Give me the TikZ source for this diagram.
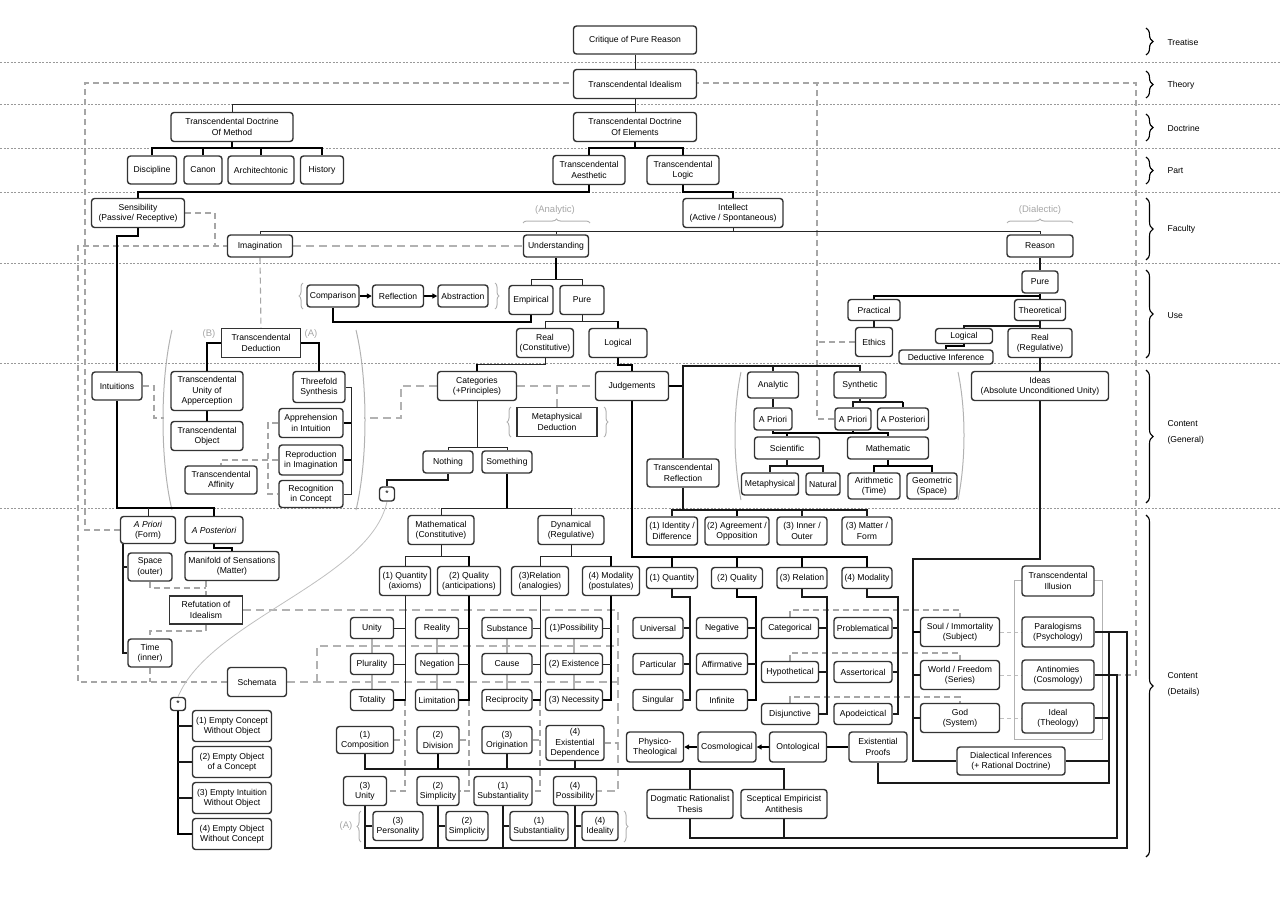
\documentclass[tikz,border=0pt]{standalone}
\usepackage{fontspec}
\setmainfont{Liberation Sans}
\usetikzlibrary{decorations.pathreplacing,arrows.meta,calc}
\pgfdeclarelayer{bg}
\pgfsetlayers{bg,main}
\newcommand\dfont{\fontsize{8.6}{10.3}\selectfont}
\begin{document}
\begin{tikzpicture}[x=1pt,y=-1pt,
 box/.style={draw=black!80, line width=1.4pt, rounded corners=3pt, fill=white, align=center, inner sep=0.5pt, font=\dfont, text=black},
 sbox/.style={box, rounded corners=0pt},
 wh/.style 2 args={minimum width=#1pt, minimum height=#2pt},
 thn/.style={draw=black!85, line width=1pt},
 med/.style={draw=black!90, line width=1.4pt},
 thk/.style={draw=black, line width=2.4pt},
 gd/.style={draw=black!35, line width=1.1pt, dash pattern=on 6pt off 4pt},
 gdb/.style={draw=black!30, line width=1.6pt, dash pattern=on 8pt off 5pt},
 gdl/.style={draw=black!25, line width=0.9pt, dash pattern=on 4pt off 3pt},
 gcn/.style={draw=black!30, line width=1.3pt},
 sepl/.style={draw=black!40, line width=0.8pt, dash pattern=on 2pt off 1.5pt},
 gl/.style={text=black!35, font=\fontsize{9.5}{10}\selectfont},
 gbr/.style={draw=black!30, line width=1pt, decorate, decoration={brace, amplitude=4pt}},
 gpar/.style={draw=black!30, line width=1pt},
 rbr/.style={draw=black, line width=1.1pt, decorate, decoration={brace, amplitude=7pt}},
 lab/.style={font=\dfont, anchor=west, align=left},
 arr/.style={draw=black, line width=1.5pt, -{Triangle[length=5pt,width=5pt]}},
]
\useasboundingbox (0,0) rectangle (1280,916);

% ---------- nodes ----------
\node[box,wh={123}{28}] (cpr) at (635,40) {Critique of Pure Reason};
\node[box,wh={123}{29}] (ti) at (635,84) {Transcendental Idealism};
\node[box,wh={122}{29}] (tdm) at (232,127) {Transcendental Doctrine\\Of Method};
\node[box,wh={123}{29}] (tde) at (635,127) {Transcendental Doctrine\\Of Elements};
\node[box,wh={49}{28}] (disc) at (152,170) {Discipline};
\node[box,wh={38}{28}] (canon) at (203,170) {Canon};
\node[box,wh={66}{28}] (arch) at (261,170) {Architechtonic};
\node[box,wh={43}{28}] (hist) at (322,170) {History};
\node[box,wh={72}{29}] (taes) at (589,170) {Transcendental\\Aesthetic};
\node[box,wh={72}{29}] (tlog) at (683,170) {Transcendental\\Logic};
\node[box,wh={93}{29}] (sens) at (138,213) {Sensibility\\(Passive/ Receptive)};
\node[box,wh={100}{29}] (intel) at (733,213) {Intellect\\(Active / Spontaneous)};
\node[box,wh={65}{22}] (imag) at (260,246) {Imagination};
\node[box,wh={65}{22}] (und) at (556,246) {Understanding};
\node[box,wh={66}{22}] (reas) at (1040,246) {Reason};
\node[box,wh={52}{22}] (comp) at (333,296) {Comparison};
\node[box,wh={51}{22}] (refl) at (398,296) {Reflection};
\node[box,wh={50}{22}] (abst) at (463,296) {Abstraction};
\node[box,wh={44}{29}] (emp) at (531,300) {Empirical};
\node[box,wh={44}{29}] (pureu) at (582,300) {Pure};
\node[box,wh={57}{29}] (realc) at (545,343) {Real\\(Constitutive)};
\node[box,wh={58}{29}] (logu) at (618,343) {Logical};
\node[box,wh={36}{22}] (purer) at (1040,282) {Pure};
\node[box,wh={52}{21}] (prac) at (874,310) {Practical};
\node[box,wh={51}{21}] (theo) at (1040,310) {Theoretical};
\node[box,wh={37}{29}] (ethics) at (874,342) {Ethics};
\node[box,wh={57}{15}] (logr) at (964,336) {Logical};
\node[box,wh={94}{14}] (dedi) at (946,357) {Deductive Inference};
\node[box,wh={64}{29}] (realr) at (1040,343) {Real\\(Regulative)};
\node[sbox,wh={79}{29}] (td) at (261,343) {Transcendental\\Deduction};
\node[box,wh={50}{28}] (intu) at (117,386) {Intuitions};
\node[box,wh={72}{39}] (tua) at (207,391) {Transcendental\\Unity of\\Apperception};
\node[box,wh={72}{29}] (tobj) at (207,436) {Transcendental\\Object};
\node[box,wh={72}{28}] (taff) at (221,480) {Transcendental\\Affinity};
\node[box,wh={52}{31}] (three) at (319,387) {Threefold\\Synthesis};
\node[box,wh={64}{29}] (appr) at (311,423) {Apprehension\\in Intuition};
\node[box,wh={64}{30}] (repr) at (311,460) {Reproduction\\in Imagination};
\node[box,wh={64}{27}] (reco) at (311,494) {Recognition\\in Concept};
\node[box,wh={79}{29}] (cat) at (477,386) {Categories\\(+Principles)};
\node[box,wh={73}{29}] (judg) at (632,386) {Judgements};
\node[sbox,wh={80}{29}] (metad) at (557,422) {Metaphysical\\Deduction};
\node[box,wh={50}{22}] (noth) at (448,462) {Nothing};
\node[box,wh={50}{22}] (some) at (507,462) {Something};
\node[box,wh={15}{14}] (star1) at (387,494) {*};
\node[box,wh={51}{26}] (anal) at (773,385) {Analytic};
\node[box,wh={52}{26}] (synth) at (860,385) {Synthetic};
\node[box,wh={38}{22}] (apa) at (773,419) {A Priori};
\node[box,wh={36}{22}] (aps) at (853,419) {A Priori};
\node[box,wh={51}{22}] (apost) at (903,419) {A Posteriori};
\node[box,wh={65}{22}] (sci) at (787,448) {Scientific};
\node[box,wh={81}{22}] (math) at (888,448) {Mathematic};
\node[box,wh={57}{22}] (metap) at (770,484) {Metaphysical};
\node[box,wh={34}{22}] (nat) at (823,484) {Natural};
\node[box,wh={52}{26}] (arith) at (874,486) {Arithmetic\\(Time)};
\node[box,wh={50}{26}] (geom) at (932,486) {Geometric\\(Space)};
\node[box,wh={72}{28}] (trefl) at (683,473) {Transcendental\\Reflection};
\node[box,wh={137}{29}] (ideas) at (1040,386) {Ideas\\(Absolute Unconditioned Unity)};
\node[box,wh={55}{27}] (apf) at (148,530) {\itshape A Priori\\(Form)};
\node[box,wh={58}{27}] (apm) at (214,530) {\itshape A Posteriori};
\node[box,wh={44}{28}] (space) at (150,567) {Space\\(outer)};
\node[box,wh={94}{29}] (manif) at (232,566) {Manifold of Sensations\\(Matter)};
\node[sbox,wh={73}{28}] (refut) at (206,610) {Refutation of\\Idealism};
\node[box,wh={44}{28}] (time) at (150,653) {Time\\(inner)};
\node[box,wh={59}{29}] (schem) at (257,682) {Schemata};
\node[box,wh={15}{13}] (star2) at (178,704) {*};
\node[box,wh={79}{31}] (ec1) at (232,726) {(1) Empty Concept\\Without Object};
\node[box,wh={79}{31}] (ec2) at (232,762) {(2) Empty Object\\of a Concept};
\node[box,wh={79}{31}] (ec3) at (232,798) {(3) Empty Intuition\\Without Object};
\node[box,wh={79}{31}] (ec4) at (232,834) {(4) Empty Object\\Without Concept};
\node[box,wh={66}{29}] (mathc) at (441,530) {Mathematical\\(Constitutive)};
\node[box,wh={66}{29}] (dyn) at (571,530) {Dynamical\\(Regulative)};
\node[box,wh={51}{29}] (q1) at (405,581) {(1) Quantity\\(axioms)};
\node[box,wh={63}{29}] (q2) at (469,581) {(2) Quality\\(anticipations)};
\node[box,wh={57}{29}] (q3) at (540,581) {(3)Relation\\(analogies)};
\node[box,wh={57}{29}] (q4) at (611,581) {(4) Modality\\(postulates)};
\node[box,wh={43}{21}] (c11) at (372,628) {Unity};
\node[box,wh={43}{21}] (c12) at (372,664) {Plurality};
\node[box,wh={43}{21}] (c13) at (372,700) {Totality};
\node[box,wh={43}{21}] (c21) at (437,628) {Reality};
\node[box,wh={43}{21}] (c22) at (437,664) {Negation};
\node[box,wh={43}{21}] (c23) at (437,700) {Limitation};
\node[box,wh={50}{21}] (c31) at (507,628) {Substance};
\node[box,wh={50}{21}] (c32) at (507,664) {Cause};
\node[box,wh={50}{21}] (c33) at (507,700) {Reciprocity};
\node[box,wh={57}{21}] (c41) at (574,628) {(1)Possibility};
\node[box,wh={57}{21}] (c42) at (574,664) {(2) Existence};
\node[box,wh={57}{21}] (c43) at (574,700) {(3) Necessity};
\node[box,wh={57}{27}] (comp1) at (365,740) {(1)\\Composition};
\node[box,wh={42}{27}] (div2) at (438,740) {(2)\\Division};
\node[box,wh={50}{27}] (orig3) at (507,740) {(3)\\Origination};
\node[box,wh={58}{35}] (exd4) at (575,743) {(4)\\Existential\\Dependence};
\node[box,wh={43}{29}] (un3) at (365,791) {(3)\\Unity};
\node[box,wh={42}{29}] (sim2) at (438,791) {(2)\\Simplicity};
\node[box,wh={58}{29}] (sub1) at (503,791) {(1)\\Substantiality};
\node[box,wh={43}{29}] (pos4) at (575,791) {(4)\\Possibility};
\node[box,wh={50}{29}] (pers) at (398,826) {(3)\\Personality};
\node[box,wh={42}{29}] (simb) at (467,826) {(2)\\Simplicity};
\node[box,wh={58}{29}] (subb) at (539,826) {(1)\\Substantiality};
\node[box,wh={36}{29}] (ideal4) at (600,826) {(4)\\Ideality};
\node[box,wh={51}{28}] (r1) at (672,531) {(1) Identity /\\Difference};
\node[box,wh={64}{28}] (r2) at (737,531) {(2) Agreement /\\Opposition};
\node[box,wh={50}{28}] (r3) at (802,531) {(3) Inner /\\Outer};
\node[box,wh={50}{28}] (r4) at (867,531) {(3) Matter /\\Form};
\node[box,wh={51}{21}] (j1) at (672,578) {(1) Quantity};
\node[box,wh={51}{21}] (j2) at (737,578) {(2) Quality};
\node[box,wh={50}{21}] (j3) at (802,578) {(3) Relation};
\node[box,wh={50}{21}] (j4) at (867,578) {(4) Modality};
\node[box,wh={50}{21}] (univ) at (658,628) {Universal};
\node[box,wh={50}{21}] (part) at (658,664) {Particular};
\node[box,wh={50}{21}] (sing) at (658,700) {Singular};
\node[box,wh={51}{21}] (neg) at (722,628) {Negative};
\node[box,wh={51}{21}] (aff) at (722,664) {Affirmative};
\node[box,wh={51}{21}] (inf) at (722,700) {Infinite};
\node[box,wh={57}{21}] (categ) at (790,628) {Categorical};
\node[box,wh={57}{21}] (hyp) at (790,672) {Hypothetical};
\node[box,wh={57}{21}] (disj) at (790,714) {Disjunctive};
\node[box,wh={58}{21}] (prob) at (863,628) {Problematical};
\node[box,wh={58}{21}] (asser) at (863,672) {Assertorical};
\node[box,wh={58}{21}] (apod) at (863,714) {Apodeictical};
\node[box,wh={57}{30}] (phys) at (655,747) {Physico-\\Theological};
\node[box,wh={58}{30}] (cosm) at (727,747) {Cosmological};
\node[box,wh={57}{30}] (onto) at (798,747) {Ontological};
\node[box,wh={58}{30}] (exis) at (878,747) {Existential\\Proofs};
\node[box,wh={86}{29}] (dogm) at (690,804) {Dogmatic Rationalist\\Thesis};
\node[box,wh={86}{29}] (scep) at (784,804) {Sceptical Empiricist\\Antithesis};
\node[box,wh={79}{29}] (soul) at (960,632) {Soul / Immortality\\(Subject)};
\node[box,wh={79}{29}] (world) at (960,675) {World / Freedom\\(Series)};
\node[box,wh={79}{29}] (god) at (960,718) {God\\(System)};
\node[box,wh={72}{30}] (till) at (1058,581) {Transcendental\\Illusion};
\node[box,wh={72}{30}] (para) at (1058,632) {Paralogisms\\(Psychology)};
\node[box,wh={72}{30}] (anti) at (1058,675) {Antinomies\\(Cosmology)};
\node[box,wh={72}{30}] (idealt) at (1058,718) {Ideal\\(Theology)};
\node[box,wh={108}{28}] (dinf) at (1011,761) {Dialectical Inferences\\(+ Rational Doctrine)};

% gray labels
\node[gl] (lanal) at (555,210) {(Analytic)};
\node[gl] (ldial) at (1040,210) {(Dialectic)};
\node[gl] (lb) at (209,334) {(B)};
\node[gl] (la) at (311,334) {(A)};
\node[gl] (la2) at (346,826) {(A)};

% right labels
\node[lab] (l1) at (1164,42) {Treatise};
\node[lab] (l2) at (1164,85) {Theory};
\node[lab] (l3) at (1164,128) {Doctrine};
\node[lab] (l4) at (1164,171) {Part};
\node[lab] (l5) at (1164,229) {Faculty};
\node[lab] (l6) at (1164,316) {Use};
\node[lab] (l7) at (1164,424) {Content};
\node[lab] (l7b) at (1164,440) {(General)};
\node[lab] (l8) at (1164,676) {Content};
\node[lab] (l8b) at (1164,692) {(Details)};
\draw[rbr] (1146,28) -- (1146,55);
\draw[rbr] (1146,71) -- (1146,98);
\draw[rbr] (1146,114) -- (1146,141);
\draw[rbr] (1146,157) -- (1146,184);
\draw[rbr] (1146,198) -- (1146,260);
\draw[rbr] (1146,270) -- (1146,358);
\draw[rbr] (1146,370) -- (1146,503);
\draw[rbr] (1146,515) -- (1146,857);

\begin{pgfonlayer}{bg}
% band separators
\foreach \yy in {62,104,148,192,263,363,508} \draw[sepl] (0,\yy) -- (1280,\yy);

% gray dashed relations
\draw[gd] (apf.west) -- (apf.west -| 85,0) -- (85,83) -- (1136,83) -- (1136,675) -- (anti.east);
\draw[gd] (aps.west) -- (aps.west -| 817,0) -- (817,83);
\draw[gd] (ethics.west) -- (ethics.west -| 817,0);
\draw[gd] (sens.east) -- (sens.east -| 215,0) -- (215,246);
\draw[gd] (schem.west) -- (schem.west -| 78,0) -- (78,246) -- (imag.west);
\draw[gdb] (imag.east) -- (und.west);
\draw[gd] (imag.south) -- (td.north);
\draw[gd] (intu.east) -- (intu.east -| 154,0) -- (154,418) -- (164,418);
\draw[gdb] (cat.west) -- (cat.west -| 401,0) -- (401,418) -- (364,418);
\draw[gdb] (cat.east) -- (judg.west);
\draw[gdb] (metad.north |- cat.east) -- (metad.north);
\draw[gd] (appr.west) -- (appr.west -| 268,0) -- (reco.west -| 268,0) -- (reco.west);
\draw[gd] (repr.west) -- (repr.west -| taff.north) -- (taff.north);
\draw[gd] (space.south) -- (space.south |- 0,588) -- (refut.north |- 0,588);
\draw[gd] (refut.north |- manif.south) -- (refut.north);
\draw[gd] (refut.south) -- (refut.south |- 0,631) -- (time.north |- 0,631) -- (time.north);
\draw[gd] (time.south) -- (time.south |- 0,682);
\draw[gdb] (refut.east) -- (refut.east -| 618,0) -- (618,791) -- (pos4.east);
\draw[gdb] (schem.east) -- (618,682);
\draw[gdb] (317,682) -- (317,646) -- (618,646);
\draw[gd] (exd4.east) -- (exd4.east -| 618,0);
\draw[gd] (q1.south |- c13.east) -- (q1.south |- un3.east) -- (un3.east);
\draw[gd] (comp1.east) -- (comp1.east -| q1.south);
\draw[gd] (q2.south |- c23.east) -- (q2.south |- sim2.east) -- (sim2.east);
\draw[gd] (div2.east) -- (div2.east -| q2.south);
\draw[gd] (q3.south |- c33.east) -- (q3.south |- sub1.east) -- (sub1.east);
\draw[gd] (orig3.east) -- (orig3.east -| q3.south);
\foreach \a/\b in {c11/c12,c12/c13,c21/c22,c22/c23,c31/c32,c32/c33,c41/c42,c42/c43}
  \draw[gcn] (\a.south) -- (\b.north);
\draw[gd] (categ.north) -- (categ.north |- 0,610) -- (soul.north |- 0,610) -- (soul.north);
\draw[gd] (hyp.north) -- (hyp.north |- 0,653) -- (world.north |- 0,653) -- (world.north);
\draw[gd] (disj.north) -- (disj.north |- 0,697) -- (god.north |- 0,697) -- (god.north);
\draw[gdl] (soul.east) -- (para.west);
\draw[gdl] (world.east) -- (anti.west);
\draw[gdl] (god.east) -- (idealt.west);
\draw[draw=black!30, line width=0.8pt] (1014,580) rectangle (1102,739);
\draw[draw=black!25, line width=0.8pt] (star1.south) .. controls (370,580) and (210,620) .. (star2.north);

% gray parentheses and braces
\draw[gpar] (172,330) .. controls (160,380) and (160,460) .. (172,510);
\draw[gpar] (356,330) .. controls (368,380) and (368,460) .. (356,510);
\draw[gpar] (741,372) .. controls (733,410) and (733,460) .. (741,500);
\draw[gpar] (958,372) .. controls (966,410) and (966,460) .. (958,500);
\draw[gbr] (303,309) -- (303,283);
\draw[gbr] (495,283) -- (495,309);
\draw[gbr] (511,437) -- (511,407);
\draw[gbr] (604,407) -- (604,437);
\draw[gbr] (361,842) -- (361,811);
\draw[gbr] (624,811) -- (624,842);
\draw[gbr] (523,223) -- (590,223);
\draw[gbr] (1007,223) -- (1073,223);

% ---------- solid connectors ----------
\draw[thn] (cpr) -- (ti);
\draw[thn] (ti) -- (tde);
\draw[thn] (tdm.north) |- (tde.north |- 0,104);
\draw[thk] (tdm.south) -- (tdm.south |- 0,148);
\draw[thk] (disc.north) |- (hist.north |- 0,148) -- (hist.north);
\draw[thk] (canon.north) -- (canon.north |- 0,148);
\draw[thk] (arch.north) -- (arch.north |- 0,148);
\draw[thk] (tde.south) -- (tde.south |- 0,148);
\draw[thk] (taes.north) |- (tlog.north |- 0,148) -- (tlog.north);
\draw[thk] (taes.south) |- (sens.north |- 0,192) -- (sens.north);
\draw[thk] (tlog.south) |- (intel.north |- 0,192) -- (intel.north);
\draw[thn] (intel.south) -- (intel.south |- 0,231);
\draw[thn] (imag.north) |- (reas.north |- 0,231) -- (reas.north);
\draw[thn] (und.north) -- (und.north |- 0,231);
\draw[thk] (sens.south) |- (intu.north |- 0,236) -- (intu.north);
\draw[thk] (und.south) -- (und.south |- 0,279);
\draw[thn] (emp.north) |- (pureu.north |- 0,279) -- (pureu.north);
\draw[thk] (comp.south) |- (emp.south |- 0,322) -- (emp.south);
\draw[arr] (comp) -- (refl);
\draw[arr] (refl) -- (abst);
\draw[thn] (pureu.south) -- (pureu.south |- 0,321);
\draw[thn] (realc.north) |- (logu.north |- 0,321);
\draw[thk] (logu.north |- 0,321) -- (logu.north);
\draw[thn] (realc.south) |- (cat.north |- 0,364);
\draw[thk] (cat.north |- 0,364) -- (cat.north);
\draw[thk] (logu.south) |- (judg.north |- 0,365) -- (judg.north);

\draw[thk] (td.west) -| (tua.north);
\draw[thk] (td.east) -| (three.north);
\draw[thk] (tua) -- (tobj);
\draw[thn] (three.east) -- (three.east -| 351,0) -- (reco.east -| 351,0) -- (reco.east);
\draw[thk] (appr.east) -- (appr.east -| 351,0);
\draw[thk] (repr.east) -- (repr.east -| 351,0);

\draw[thk] (intu.south) |- (apm.north |- 0,508) -- (apm.north);
\draw[thn] (apf.north) -- (apf.north |- 0,508);
\draw[med] (apf.south -| 123,0) |- (time.west);
\draw[med] (space.west) -- (space.west -| 123,0);
\draw[thk] (apm.south) |- (manif.north |- 0,548) -- (manif.north);

\draw[thk] (star2.south) |- (ec4.west);
\draw[med] (ec1.west) -- (ec1.west -| star2.south);
\draw[med] (ec2.west) -- (ec2.west -| star2.south);
\draw[med] (ec3.west) -- (ec3.west -| star2.south);

\draw[thn] (cat.south) -- (cat.south |- 0,447);
\draw[thn] (noth.north) |- (some.north |- 0,447) -- (some.north);
\draw[med] (noth.south) |- (star1.north |- 0,480) -- (star1.north);
\draw[thk] (some.south) -- (some.south |- 0,508);
\draw[thn] (mathc.north) |- (dyn.north |- 0,508) -- (dyn.north);
\draw[thn] (mathc.south) -- (mathc.south |- 0,556);
\draw[thn] (q1.north) |- (q2.north |- 0,556);
\draw[thk] (q2.north |- 0,556) -- (q2.north);
\draw[thn] (dyn.south) -- (dyn.south |- 0,556);
\draw[thn] (q3.north) |- (q4.north |- 0,556);
\draw[thk] (q4.north |- 0,556) -- (q4.north);

\draw[thn] (q1.south) |- (c13.east);
\draw[thk] (q1.south |- c13.east) -- (c13.east);
\draw[thn] (c11.east) -- (c11.east -| q1.south);
\draw[thn] (c12.east) -- (c12.east -| q1.south);
\draw[thk] (q2.south) |- (c23.east);
\draw[thn] (c21.east) -- (c21.east -| q2.south);
\draw[thn] (c22.east) -- (c22.east -| q2.south);
\draw[thn] (q3.south) |- (c33.east);
\draw[thk] (q3.south |- c33.east) -- (c33.east);
\draw[thn] (c31.east) -- (c31.east -| q3.south);
\draw[thn] (c32.east) -- (c32.east -| q3.south);
\draw[thk] (q4.south) |- (c43.east);
\draw[thn] (c41.east) -- (c41.east -| q4.south);
\draw[thn] (c42.east) -- (c42.east -| q4.south);

\draw[med] (comp1.south) |- (scep.north |- 0,769) -- (scep.north);
\draw[thk] (div2.south) -- (div2.south |- 0,769);
\draw[med] (orig3.south) -- (orig3.south |- 0,769);
\draw[med] (exd4.south) -- (exd4.south |- 0,769);
\draw[med] (dogm.north) -- (dogm.north |- 0,769);

\draw[med] (un3.south) -- (un3.south |- 0,848) -- (1127,848) -- (para.east -| 1127,0) -- (para.east);
\draw[med] (sim2.south) -- (sim2.south |- 0,848);
\draw[med] (sub1.south) -- (sub1.south |- 0,848);
\draw[med] (pos4.south) -- (pos4.south |- 0,848);
\draw[med] (pers.west) -- (pers.west -| un3.south);
\draw[med] (simb.west) -- (simb.west -| sim2.south);
\draw[med] (subb.west) -- (subb.west -| sub1.south);
\draw[med] (ideal4.west) -- (ideal4.west -| pos4.south);

\draw[med] (para.east) -- (para.east -| 1109,0) -- (1109,783) -- (exis.south |- 0,783) -- (exis.south);
\draw[med] (idealt.east) -- (idealt.east -| 1109,0);
\draw[med] (dinf.east) -- (dinf.east -| 1109,0);
\draw[med] (anti.east) -- (anti.east -| 1117,0) -- (1117,838) -- (dogm.south |- 0,838) -- (dogm.south);
\draw[med] (scep.south) -- (scep.south |- 0,838);
\draw[med] (ideas.south) -- (ideas.south |- 0,559) -- (913,559) -- (dinf.west -| 913,0) -- (dinf.west);
\draw[thk] (soul.west) -- (soul.west -| 913,0);
\draw[med] (world.west) -- (world.west -| 913,0);
\draw[med] (god.west) -- (god.west -| 913,0);

\draw[thk] (judg.south) |- (j4.north |- 0,557) -- (j4.north);
\draw[thk] (j1.north) -- (j1.north |- 0,557);
\draw[thk] (j2.north) -- (j2.north |- 0,557);
\draw[thk] (j3.north) -- (j3.north |- 0,557);
\draw[thk] (judg.east) -- (judg.east -| 683,0);
\draw[med] (trefl.north) -- (trefl.north |- 0,366) -- (synth.north |- 0,366) -- (synth.north);
\draw[med] (anal.north) -- (anal.north |- 0,366);
\draw[med] (trefl.south) -- (trefl.south |- 0,510);
\draw[med] (r1.north) |- (r4.north |- 0,510) -- (r4.north);
\draw[thk] (r2.north) -- (r2.north |- 0,510);
\draw[med] (r3.north) -- (r3.north |- 0,510);

\draw[med] (anal) -- (apa);
\draw[med] (synth.south) -- (synth.south |- 0,402);
\draw[med] (aps.north) |- (apost.north |- 0,402);
\draw[thk] (apost.north |- 0,402) -- (apost.north);
\draw[thk] (apa.south) |- (math.north |- 0,433) -- (math.north);
\draw[thk] (aps.south) -- (aps.south |- 0,433);
\draw[thk] (sci.north) -- (sci.north |- 0,433);
\draw[med] (sci.south) -- (sci.south |- 0,466);
\draw[med] (metap.north) |- (nat.north |- 0,466) -- (nat.north);
\draw[thk] (math.south) -- (math.south |- 0,466);
\draw[thk] (arith.north) |- (geom.north |- 0,466) -- (geom.north);

\draw[med] (j1.south) -- (j1.south |- 0,597) -- (690,597) -- (sing.east -| 690,0) -- (sing.east);
\draw[med] (univ.east) -- (univ.east -| 690,0);
\draw[med] (part.east) -- (part.east -| 690,0);
\draw[thk] (j2.south) -- (j2.south |- 0,597) -- (756,597) -- (inf.east -| 756,0) -- (inf.east);
\draw[med] (neg.east) -- (neg.east -| 756,0);
\draw[med] (aff.east) -- (aff.east -| 756,0);
\draw[med] (j3.south) -- (j3.south |- 0,597) -- (827,597) -- (disj.east -| 827,0) -- (disj.east);
\draw[med] (categ.east) -- (categ.east -| 827,0);
\draw[med] (hyp.east) -- (hyp.east -| 827,0);
\draw[med] (j4.south) -- (j4.south |- 0,597) -- (898,597) -- (apod.east -| 898,0) -- (apod.east);
\draw[med] (prob.east) -- (prob.east -| 898,0);
\draw[med] (asser.east) -- (asser.east -| 898,0);

\draw[thk] (exis) -- (onto);
\draw[arr] (onto) -- (cosm);
\draw[arr] (cosm) -- (phys);

\draw[med] (reas) -- (purer);
\draw[thk] (purer.south) -- (purer.south |- 0,296);
\draw[thk] (prac.north) |- (theo.north |- 0,296) -- (theo.north);
\draw[med] (prac) -- (ethics);
\draw[med] (theo) -- (realr);
\draw[med] (logr.north) |- (theo.south |- 0,326);
\draw[thk] (logr.south) |- (dedi.north |- 0,346) -- (dedi.north);
\draw[med] (realr) -- (ideas);
\end{pgfonlayer}
\end{tikzpicture}
\end{document}
